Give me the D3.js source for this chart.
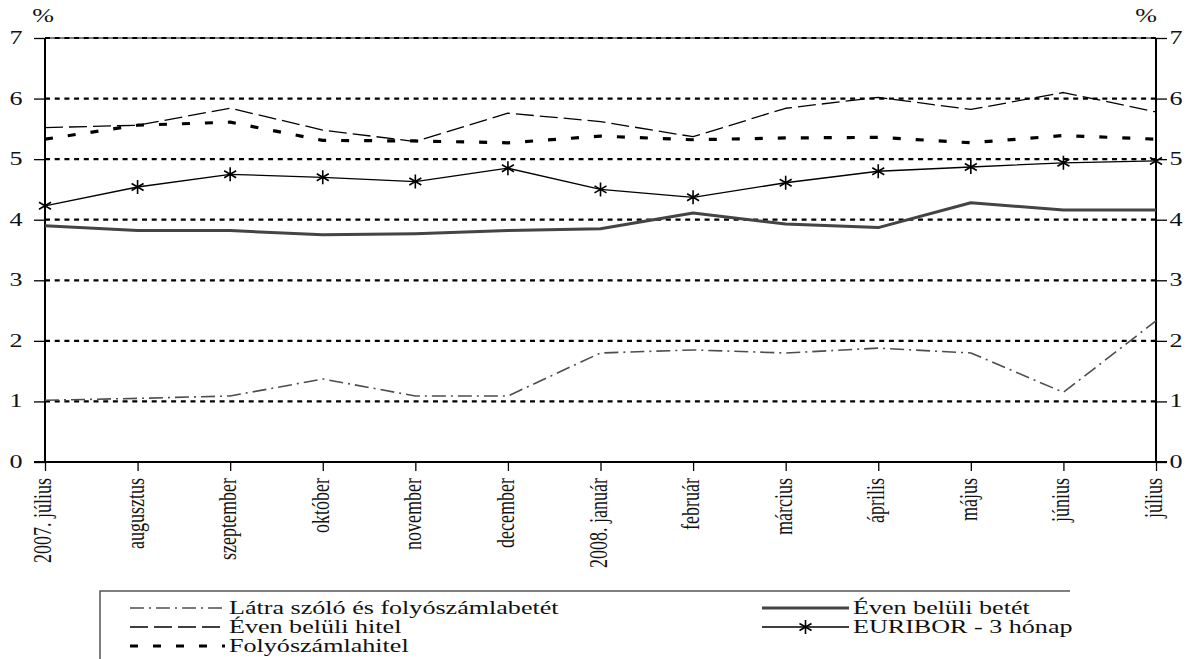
<!DOCTYPE html>
<html>
<head>
<meta charset="utf-8">
<script src="https://cdn.jsdelivr.net/npm/d3@7"></script>
<style>
  html, body { margin: 0; padding: 0; background: #fff; }
  svg { display: block; }
  text { font-family: "Liberation Serif", "Times New Roman", serif; fill: #111; }
</style>
</head>
<body>
<svg id="chart" width="1199" height="659"></svg>
<script>
// Months on the x axis
const months = ["2007. július", "augusztus", "szeptember", "október", "november", "december",
  "2008. január", "február", "március", "április", "május", "június", "július"];

// Interest rates, %
const latraBetet   = [1.02, 1.05, 1.09, 1.37, 1.09, 1.09, 1.80, 1.85, 1.80, 1.88, 1.80, 1.15, 2.33];
const evenBetet    = [3.90, 3.82, 3.82, 3.75, 3.77, 3.82, 3.85, 4.11, 3.93, 3.87, 4.28, 4.16, 4.16];
const evenHitel    = [5.52, 5.56, 5.84, 5.48, 5.29, 5.76, 5.62, 5.37, 5.84, 6.02, 5.82, 6.10, 5.78];
const folyoHitel   = [5.33, 5.56, 5.61, 5.31, 5.30, 5.27, 5.38, 5.32, 5.35, 5.36, 5.27, 5.39, 5.33];
const euribor3     = [4.23, 4.54, 4.75, 4.70, 4.63, 4.85, 4.50, 4.37, 4.61, 4.80, 4.87, 4.94, 4.97];

const yTicks = [0, 1, 2, 3, 4, 5, 6, 7];

const svg = d3.select("#chart");
const L = 45, R = 1156, T = 38, B = 462;
const SX = 1.45; // wide glyph stretch used for all labels

const x = d3.scalePoint().domain(months).range([L, R]);
const y = d3.scaleLinear().domain([0, 7]).range([B, T]);

// horizontal dotted gridlines
svg.append("g").selectAll("line").data(yTicks.filter(d => d > 0)).join("line")
  .attr("x1", L).attr("x2", R)
  .attr("y1", d => y(d)).attr("y2", d => y(d))
  .attr("stroke", "#000").attr("stroke-width", 2.2)
  .attr("stroke-dasharray", "5,4.7");

// top frame line
svg.append("line").attr("x1", L).attr("x2", R).attr("y1", T).attr("y2", T)
  .attr("stroke", "#000").attr("stroke-width", 1);

// axes
function styleAxis(g) {
  g.select(".domain").remove();
  g.selectAll(".tick line").attr("stroke", "#000").attr("stroke-width", 1.3);
  g.selectAll(".tick text").remove();
}
svg.append("g").attr("transform", `translate(${L},0)`)
  .call(d3.axisLeft(y).tickValues(yTicks).tickSize(11)).call(styleAxis);
svg.append("g").attr("transform", `translate(${R},0)`)
  .call(d3.axisRight(y).tickValues(yTicks).tickSize(11)).call(styleAxis);
svg.append("g").attr("transform", `translate(0,${B})`)
  .call(d3.axisBottom(x).tickSize(9)).call(styleAxis);

svg.append("line").attr("x1", L).attr("x2", L).attr("y1", T).attr("y2", B + 1)
  .attr("stroke", "#000").attr("stroke-width", 2);
svg.append("line").attr("x1", R).attr("x2", R).attr("y1", T).attr("y2", B + 1)
  .attr("stroke", "#000").attr("stroke-width", 2);
svg.append("line").attr("x1", L - 11).attr("x2", R + 11).attr("y1", B).attr("y2", B)
  .attr("stroke", "#000").attr("stroke-width", 2);

// y tick labels, both sides
const fs = 18;
function wideText(sel, px, py, anchor) {
  return sel.attr("transform", `translate(${px},${py}) scale(${SX},1)`)
    .attr("text-anchor", anchor).attr("font-size", fs);
}
yTicks.forEach(v => {
  svg.append("text").text(v).call(wideText, 16, y(v) + 6, "middle");
  svg.append("text").text(v).call(wideText, 1176, y(v) + 6, "middle");
});
svg.append("text").text("%").call(wideText, 43, 22, "middle");
svg.append("text").text("%").call(wideText, 1146, 22, "middle");

// rotated month labels
svg.append("g").selectAll("text").data(months).join("text")
  .attr("transform", d => `translate(${x(d) + 6},${B + 16}) rotate(-90) scale(1,${SX})`)
  .attr("text-anchor", "end").attr("font-size", 18)
  .text(d => d);

// series
const line = d3.line().x((d, i) => x(months[i])).y(d => y(d));
const series = [
  { name: "Látra szóló és folyószámlabetét", data: latraBetet, stroke: "#4d4d4d", width: 1.6, dash: "14,5,2,5" },
  { name: "Éven belüli betét", data: evenBetet, stroke: "#444", width: 3, dash: null },
  { name: "Éven belüli hitel", data: evenHitel, stroke: "#000", width: 1.3, dash: "18,6" },
  { name: "Folyószámlahitel", data: folyoHitel, stroke: "#000", width: 3.2, dash: "8,15" },
  { name: "EURIBOR - 3 hónap", data: euribor3, stroke: "#000", width: 1.3, dash: null, marker: true }
];
series.forEach(s => {
  svg.append("path").datum(s.data).attr("d", line)
    .attr("fill", "none").attr("stroke", s.stroke).attr("stroke-width", s.width)
    .attr("stroke-dasharray", s.dash).attr("stroke-linejoin", "round");
});

// asterisk markers
function starPath(cx, cy) {
  return `M${cx},${cy - 7}L${cx},${cy + 7}M${cx - 6},${cy - 3.5}L${cx + 6},${cy + 3.5}M${cx - 6},${cy + 3.5}L${cx + 6},${cy - 3.5}`;
}
svg.append("g").selectAll("path").data(euribor3).join("path")
  .attr("d", (d, i) => starPath(x(months[i]), y(d)))
  .attr("stroke", "#000").attr("stroke-width", 1.6).attr("fill", "none");

// legend
const lg = svg.append("g");
lg.append("path").attr("d", "M100,659V591H1070")
  .attr("fill", "none").attr("stroke", "#555").attr("stroke-width", 1.5);
const legendItems = [
  { s: series[0], x0: 130, x1: 225, row: 0 },
  { s: series[2], x0: 130, x1: 225, row: 1 },
  { s: series[3], x0: 130, x1: 225, row: 2 },
  { s: series[1], x0: 762, x1: 849, row: 0 },
  { s: series[4], x0: 762, x1: 849, row: 1 }
];
legendItems.forEach(it => {
  const cy = 608 + it.row * 19;
  lg.append("line").attr("x1", it.x0).attr("x2", it.x1).attr("y1", cy).attr("y2", cy)
    .attr("stroke", it.s.stroke).attr("stroke-width", it.s.width)
    .attr("stroke-dasharray", it.s.dash);
  if (it.s.marker) {
    lg.append("path").attr("d", starPath((it.x0 + it.x1) / 2, cy))
      .attr("stroke", "#000").attr("stroke-width", 1.6);
  }
  lg.append("text").text(it.s.name)
    .attr("transform", `translate(${it.x1 + 4},${cy + 6}) scale(${SX},1)`)
    .attr("font-size", fs);
});
</script>
</body>
</html>
